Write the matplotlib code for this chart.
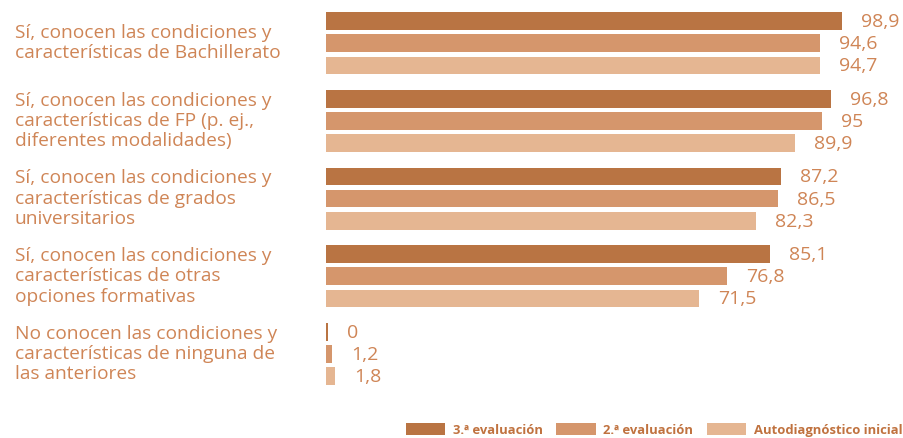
import matplotlib
matplotlib.use("Agg")
import matplotlib.pyplot as plt
from matplotlib.patches import Patch

categories = [
    "Sí, conocen las condiciones y\ncaracterísticas de Bachillerato",
    "Sí, conocen las condiciones y\ncaracterísticas de FP (p. ej.,\ndiferentes modalidades)",
    "Sí, conocen las condiciones y\ncaracterísticas de grados\nuniversitarios",
    "Sí, conocen las condiciones y\ncaracterísticas de otras\nopciones formativas",
    "No conocen las condiciones y\ncaracterísticas de ninguna de\nlas anteriores",
]
series_names = ["3.ª evaluación", "2.ª evaluación", "Autodiagnóstico inicial"]
eval3 = [98.9, 96.8, 87.2, 85.1, 0]
eval2 = [94.6, 95, 86.5, 76.8, 1.2]
inicial = [94.7, 89.9, 82.3, 71.5, 1.8]
series = [eval3, eval2, inicial]
colors = ["#b97443", "#d5966c", "#e5b692"]

FONT = "Open Sans"
plt.rcParams["font.family"] = [FONT, "DejaVu Sans"]

W, H = 904, 438
fig = plt.figure(figsize=(W / 100, H / 100), dpi=100)
ax_left = 326 / W
ax_bottom = 38 / H
ax = fig.add_axes([ax_left, ax_bottom, 1 - ax_left, 1 - ax_bottom])

G = 3.5
px_per_unit = 22.2
px_per_x = 5.22
top_c = 21
xmax = (W - 326) / px_per_x
ax.set_xlim(0, xmax)
ax.set_ylim((400 - top_c) / px_per_unit, -top_c / px_per_unit)
ax.axis("off")

def fmt(v):
    s = f"{v:.1f}".replace(".", ",")
    if s.endswith(",0"):
        s = s[:-2]
    return s

text_color = "#cf8556"
for j, (vals, col) in enumerate(zip(series, colors)):
    ys = [i * G + j for i in range(len(categories))]
    widths = [v if v > 0 else 0.35 for v in vals]
    ax.barh(ys, widths, height=0.8, color=col, linewidth=0)
    for y, v, w in zip(ys, vals, widths):
        ax.annotate(fmt(v), xy=(w, y), xytext=(19, -1), textcoords="offset pixels",
                    ha="left", va="center", fontsize=14, color=text_color)

for i, cat in enumerate(categories):
    yc = i * G + 1
    yfig = 1 - (top_c + yc * px_per_unit) / H
    fig.text(15 / W, yfig, cat, ha="left", va="center", fontsize=13.8,
             color=text_color, linespacing=1.16)

handles = [Patch(facecolor=c, edgecolor="none") for c in colors]
leg = fig.legend(handles, series_names, loc="lower right", bbox_to_anchor=(1.0, 0.0),
                 ncol=3, frameon=False, fontsize=9.4, handlelength=3.0, handleheight=1.0,
                 handletextpad=0.6, columnspacing=1.05, borderpad=0.0, borderaxespad=0.1)
for t in leg.get_texts():
    t.set_color("#c0723f")
    t.set_fontweight("bold")

fig.savefig("out.png", dpi=100)
